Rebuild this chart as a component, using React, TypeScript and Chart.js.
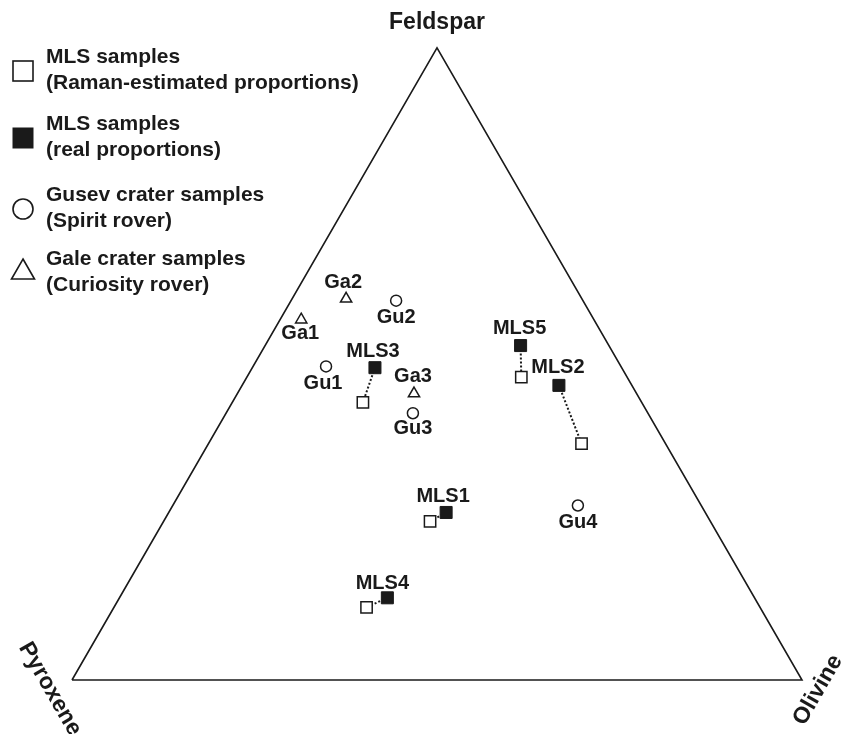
import React, { useEffect, useRef } from 'react';
import { Chart, registerables } from 'chart.js';

Chart.register(...registerables);

// ---- DATA (percentages: feldspar, pyroxene, olivine) ----
const mlsNames = ['MLS1', 'MLS2', 'MLS3', 'MLS4', 'MLS5'];
const mlsRealFeldspar = [26.5, 46.6, 49.4, 13.0, 52.9];
const mlsRealPyroxene = [35.5, 10.0, 33.8, 50.3, 12.1];
const mlsRealOlivine = [38.0, 43.4, 16.8, 36.7, 35.0];
const mlsRamanFeldspar = [25.1, 37.4, 43.9, 11.5, 47.9];
const mlsRamanPyroxene = [38.4, 11.5, 38.2, 53.9, 14.5];
const mlsRamanOlivine = [36.5, 51.1, 17.9, 34.6, 37.6];

const gusevNames = ['Gu1', 'Gu2', 'Gu3', 'Gu4'];
const gusevFeldspar = [49.6, 60.0, 42.2, 27.6];
const gusevPyroxene = [40.4, 25.6, 32.2, 16.9];
const gusevOlivine = [10.0, 14.4, 25.6, 55.5];

const galeNames = ['Ga1', 'Ga2', 'Ga3'];
const galeFeldspar = [57.0, 60.3, 45.3];
const galePyroxene = [40.1, 32.3, 30.5];
const galeOlivine = [2.9, 7.4, 24.2];

const endMembers = ['Feldspar', 'Pyroxene', 'Olivine'];

const legendLine1 = ['MLS samples', 'MLS samples', 'Gusev crater samples', 'Gale crater samples'];
const legendLine2 = ['(Raman-estimated proportions)', '(real proportions)', '(Spirit rover)', '(Curiosity rover)'];

// ---- styling (label offsets from point, in px) ----
const labelOffsets: Record<string, [number, number]> = {
  MLS1: [-3, -16], MLS2: [-1, -18], MLS3: [-2, -16], MLS4: [-5, -14], MLS5: [-1, -17],
  Gu1: [-3, 17], Gu2: [0, 17], Gu3: [0, 15], Gu4: [0, 17],
  Ga1: [-1, 14], Ga2: [-3, -16], Ga3: [-1, -17],
};

const INK = '#1a1a1a';
const FONT = '"Liberation Sans", Arial, Helvetica, sans-serif';

function ternary(f: number, p: number, o: number) {
  const s = f + p + o;
  return { x: (o + f / 2) / s, y: (f * Math.sqrt(3)) / 2 / s };
}

function build(f: number[], p: number[], o: number[]) {
  return f.map((_, i) => ternary(f[i], p[i], o[i]));
}

const overlayPlugin = {
  id: 'ternaryOverlay',
  afterDatasetsDraw(chart: any) {
    const ctx = chart.ctx as CanvasRenderingContext2D;
    const xs = chart.scales.x;
    const ys = chart.scales.y;
    const px = (pt: { x: number; y: number }) => [xs.getPixelForValue(pt.x), ys.getPixelForValue(pt.y)];
    ctx.save();
    ctx.fillStyle = INK;

    // point labels
    ctx.font = `bold 20px ${FONT}`;
    ctx.textAlign = 'center';
    ctx.textBaseline = 'middle';
    const realPts = build(mlsRealFeldspar, mlsRealPyroxene, mlsRealOlivine);
    const guPts = build(gusevFeldspar, gusevPyroxene, gusevOlivine);
    const gaPts = build(galeFeldspar, galePyroxene, galeOlivine);
    const labelled: [string, { x: number; y: number }][] = [
      ...mlsNames.map((n, i) => [n, realPts[i]] as [string, any]),
      ...gusevNames.map((n, i) => [n, guPts[i]] as [string, any]),
      ...galeNames.map((n, i) => [n, gaPts[i]] as [string, any]),
    ];
    labelled.forEach(([name, pt]) => {
      const [x, y] = px(pt);
      const off = labelOffsets[name] || [0, -16];
      ctx.fillText(name, x + off[0], y + off[1]);
    });

    // end-member labels
    ctx.font = `bold 23px ${FONT}`;
    const apex = px(ternary(100, 0, 0));
    const left = px(ternary(0, 100, 0));
    const right = px(ternary(0, 0, 100));
    ctx.fillText(endMembers[0], apex[0], apex[1] - 25);
    ctx.save();
    ctx.translate(left[0] - 22, left[1] + 9);
    ctx.rotate(Math.PI / 3);
    ctx.fillText(endMembers[1], 0, 0);
    ctx.restore();
    ctx.save();
    ctx.translate(right[0] + 16, right[1] + 10);
    ctx.rotate(-Math.PI / 3);
    ctx.fillText(endMembers[2], 0, 0);
    ctx.restore();

    // legend
    const mx = 23;
    const markerY = [71, 138, 209, 270];
    const textY: [number, number][] = [[57, 83], [124, 150], [195, 221], [259, 285]];
    ctx.lineWidth = 1.6;
    ctx.strokeStyle = INK;
    ctx.fillStyle = '#ffffff';
    ctx.fillRect(mx - 10, markerY[0] - 10, 20, 20);
    ctx.strokeRect(mx - 10, markerY[0] - 10, 20, 20);
    ctx.fillStyle = INK;
    ctx.fillRect(mx - 10.5, markerY[1] - 10.5, 21, 21);
    ctx.beginPath();
    ctx.arc(mx, markerY[2], 10, 0, Math.PI * 2);
    ctx.stroke();
    ctx.beginPath();
    ctx.moveTo(mx, markerY[3] - 11);
    ctx.lineTo(mx + 11.5, markerY[3] + 9);
    ctx.lineTo(mx - 11.5, markerY[3] + 9);
    ctx.closePath();
    ctx.stroke();

    ctx.fillStyle = INK;
    ctx.font = `bold 21px ${FONT}`;
    ctx.textAlign = 'left';
    legendLine1.forEach((t, i) => {
      ctx.fillText(t, 46, textY[i][0]);
      ctx.fillText(legendLine2[i], 46, textY[i][1]);
    });
    ctx.restore();
  },
};

export default function App() {
  const ref = useRef<HTMLCanvasElement>(null);
  useEffect(() => {
    if (!ref.current) return;
    const ramanPts = build(mlsRamanFeldspar, mlsRamanPyroxene, mlsRamanOlivine);
    const realPts = build(mlsRealFeldspar, mlsRealPyroxene, mlsRealOlivine);
    const guPts = build(gusevFeldspar, gusevPyroxene, gusevOlivine);
    const gaPts = build(galeFeldspar, galePyroxene, galeOlivine);
    const outline = [ternary(0, 100, 0), ternary(0, 0, 100), ternary(100, 0, 0), ternary(0, 100, 0)];

    const connectors = mlsNames.map((n, i) => ({
      label: n + ' link',
      data: [realPts[i], ramanPts[i]],
      showLine: true,
      borderColor: INK,
      borderWidth: 2,
      borderDash: [2, 2],
      pointRadius: 0,
      order: 1,
    }));

    const chart = new Chart(ref.current, {
      type: 'scatter',
      data: {
        datasets: [
          {
            label: 'MLS Raman', data: ramanPts, pointStyle: 'rect', pointRadius: 8,
            backgroundColor: '#ffffff', borderColor: INK, borderWidth: 1.5, order: 0,
          },
          {
            label: 'MLS real', data: realPts, pointStyle: 'rect', pointRadius: 8.5,
            backgroundColor: INK, borderColor: INK, borderWidth: 1, order: 0,
          },
          {
            label: 'Gusev', data: guPts, pointStyle: 'circle', pointRadius: 5.5,
            backgroundColor: '#ffffff', borderColor: INK, borderWidth: 1.5, order: 0,
          },
          {
            label: 'Gale', data: gaPts, pointStyle: 'triangle', pointRadius: 6.5,
            backgroundColor: '#ffffff', borderColor: INK, borderWidth: 1.5, order: 0,
          },
          ...connectors,
          {
            label: 'outline', data: outline, showLine: true, borderColor: INK,
            borderWidth: 1.6, pointRadius: 0, order: 2,
          },
        ] as any,
      },
      options: {
        animation: false,
        responsive: false,
        devicePixelRatio: 1,
        layout: { padding: 0, autoPadding: false },
        events: [],
        scales: {
          x: { type: 'linear', display: false, min: -72 / 730, max: 770 / 730 },
          y: { type: 'linear', display: false, min: -54 / 730, max: 680 / 730 },
        },
        plugins: {
          legend: { display: false },
          tooltip: { enabled: false },
          title: { display: false },
        },
      } as any,
      plugins: [overlayPlugin],
    });
    return () => chart.destroy();
  }, []);

  return (
    <div style={{ position: 'fixed', left: 0, top: 0, width: 842, height: 734, background: '#ffffff' }}>
      <canvas ref={ref} width={842} height={734} style={{ width: 842, height: 734, display: 'block' }} />
    </div>
  );
}
